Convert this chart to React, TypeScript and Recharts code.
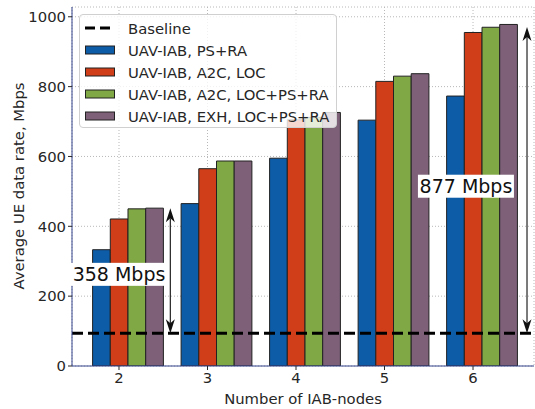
import React from 'react';
import {
  BarChart,
  Bar,
  XAxis,
  YAxis,
  CartesianGrid,
  ReferenceLine,
  ReferenceDot,
} from 'recharts';

// number of IAB-nodes on the x axis
const categories = [2, 3, 4, 5, 6];

// average UE data rate, Mbps
const psRa = [333, 465, 595, 704, 773];
const a2cLoc = [421, 565, 705, 815, 955];
const a2cFull = [450, 587, 712, 830, 970];
const exhFull = [452, 587, 726, 837, 978];

const baseline = 93.5;
const yTicks = [0, 200, 400, 600, 800, 1000];

// gain annotations (arrow from baseline up to baseline + gain)
const gainCategories = [2, 6];
const gains = [358, 877];

const SERIES = [
  { key: 'psRa', name: 'UAV-IAB, PS+RA', color: '#0d5ca8' },
  { key: 'a2cLoc', name: 'UAV-IAB, A2C, LOC', color: '#cf3e19' },
  { key: 'a2cFull', name: 'UAV-IAB, A2C, LOC+PS+RA', color: '#80a845' },
  { key: 'exhFull', name: 'UAV-IAB, EXH, LOC+PS+RA', color: '#7e6179' },
];

const FONT = '"DejaVu Sans", sans-serif';
const FRAME = '#33428c';
const TEXT = '#262626';
const FS = 14.8;

// bars of a group sit a bit to the right of the tick, like matplotlib's offsets
const GROUP_SHIFT = 0.1;
const ARROW_SHIFT = [0.58, 0.61];
const LABEL_SHIFT = [0, -0.08];
const LABEL_DROP = [3, 5.5]; // px below the arrow midpoint

const data = categories.map((n, i) => ({
  n,
  pos: n + GROUP_SHIFT,
  psRa: psRa[i],
  a2cLoc: a2cLoc[i],
  a2cFull: a2cFull[i],
  exhFull: exhFull[i],
}));

function ArrowShape(props: any) {
  const { x1, y1, x2, y2 } = props;
  const x = (x1 + x2) / 2;
  const top = Math.min(y1, y2);
  const bot = Math.max(y1, y2);
  const L = 14;
  const W = 4.5;
  const N = 10;
  return (
    <g>
      <line x1={x} y1={top + N} x2={x} y2={bot - N} stroke="#222" strokeWidth={1.2} />
      <path d={`M${x},${top} L${x - W},${top + L} L${x},${top + N} L${x + W},${top + L} Z`} fill="#111" />
      <path d={`M${x},${bot} L${x - W},${bot - L} L${x},${bot - N} L${x + W},${bot - L} Z`} fill="#111" />
    </g>
  );
}

function GainLabel(text: string) {
  return (props: any) => {
    const { cx, cy } = props;
    return (
      <g>
        <rect x={cx - 48} y={cy - 11} width={96} height={23} fill="#fff" />
        <text
          x={cx}
          y={cy + 7}
          textAnchor="middle"
          fontSize={19}
          fontFamily={FONT}
          fill="#111"
        >
          {text}
        </text>
      </g>
    );
  };
}

function LegendBox() {
  const rowH = 22;
  return (
    <div
      style={{
        position: 'absolute',
        left: 79,
        top: 14,
        width: 258,
        height: 114,
        border: '1px solid #d0d0d0',
        borderRadius: 4,
        background: 'rgba(255,255,255,0.8)',
        fontFamily: FONT,
        fontSize: FS,
        color: TEXT,
        boxSizing: 'border-box',
        paddingTop: 2,
      }}
    >
      <div style={{ height: rowH, display: 'flex', alignItems: 'center' }}>
        <svg width={43} height={10} style={{ marginLeft: 5 }}>
          <line x1={0} y1={5} x2={29} y2={5} stroke="#000" strokeWidth={3} strokeDasharray="10 5" />
        </svg>
        <span>Baseline</span>
      </div>
      {SERIES.map((s) => (
        <div key={s.key} style={{ height: rowH, display: 'flex', alignItems: 'center' }}>
          <svg width={43} height={10} style={{ marginLeft: 5 }}>
            <rect x={0.5} y={1} width={29} height={8} fill={s.color} stroke="#222" strokeWidth={1} />
          </svg>
          <span>{s.name}</span>
        </div>
      ))}
    </div>
  );
}

export default function App() {
  return (
    <div style={{ position: 'absolute', left: 0, top: 0, width: 535, height: 409, background: '#fff' }}>
      <BarChart
        width={535}
        height={409}
        data={data}
        margin={{ top: 7, right: 1, bottom: 0, left: 0 }}
        barGap={0}
        barSize={17.7}
      >
        <CartesianGrid stroke="#b8b8b8" strokeDasharray="1 2" />
        <XAxis
          dataKey="pos"
          type="number"
          domain={[1.469, 6.689]}
          ticks={categories}
          allowDataOverflow
          height={43}
          stroke={FRAME}
          tickSize={4}
          tick={{ fill: TEXT, fontSize: FS, fontFamily: FONT }}
          tickLine={{ stroke: TEXT }}
          label={{
            value: 'Number of IAB-nodes',
            position: 'insideBottom',
            offset: 5,
            fill: TEXT,
            fontSize: FS,
            fontFamily: FONT,
          }}
        />
        <XAxis
          xAxisId="top"
          orientation="top"
          type="number"
          domain={[1.469, 6.689]}
          height={0}
          tick={false}
          tickLine={false}
          stroke={FRAME}
        />
        <YAxis
          type="number"
          domain={[0, 1028]}
          ticks={yTicks}
          allowDataOverflow
          width={72}
          stroke={FRAME}
          tickSize={4}
          tick={{ fill: TEXT, fontSize: FS, fontFamily: FONT }}
          tickLine={{ stroke: TEXT }}
        />
        <YAxis
          yAxisId="right"
          orientation="right"
          type="number"
          domain={[0, 1028]}
          width={0}
          tick={false}
          tickLine={false}
          stroke={FRAME}
        />
        {SERIES.map((s) => (
          <Bar
            key={s.key}
            dataKey={s.key}
            name={s.name}
            fill={s.color}
            stroke="#222"
            strokeWidth={1}
            isAnimationActive={false}
          />
        ))}
        <ReferenceLine y={baseline} stroke="#000" strokeWidth={3} strokeDasharray="11 5" />
        {gainCategories.map((c, i) => (
          <ReferenceLine
            key={`arrow-${c}`}
            segment={[
              { x: c + ARROW_SHIFT[i], y: baseline },
              { x: c + ARROW_SHIFT[i], y: baseline + gains[i] },
            ]}
            ifOverflow="visible"
            shape={ArrowShape}
          />
        ))}
        {gainCategories.map((c, i) => (
          <ReferenceDot
            key={`label-${c}`}
            x={c + LABEL_SHIFT[i]}
            y={baseline + gains[i] / 2 - LABEL_DROP[i] / 0.349}
            r={0}
            ifOverflow="visible"
            shape={GainLabel(`${gains[i]} Mbps`)}
          />
        ))}
      </BarChart>
      <LegendBox />
      <div
        style={{
          position: 'absolute',
          left: 18,
          top: 186,
          transform: 'translate(-50%, -50%) rotate(-90deg)',
          whiteSpace: 'nowrap',
          fontFamily: FONT,
          fontSize: FS,
          color: TEXT,
        }}
      >
        Average UE data rate, Mbps
      </div>
    </div>
  );
}
